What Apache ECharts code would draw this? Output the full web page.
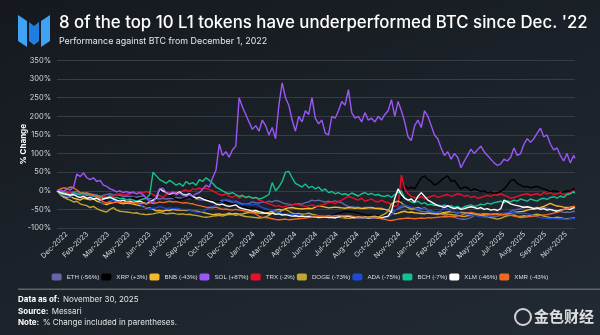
<!DOCTYPE html>
<html><head><meta charset="utf-8">
<script src="https://cdn.jsdelivr.net/npm/echarts@6/dist/echarts.min.js"></script>
<style>
html,body{margin:0;padding:0;width:600px;height:335px;overflow:hidden;background:linear-gradient(160deg,#15191f 0%,#1b2128 45%,#222a33 100%);}
#c{width:600px;height:335px;}
</style>
</head><body><div id="c"></div>
<script>
// ---- categories (weekly samples from Dec 1, 2022, plus final day Nov 30, 2025) ----
const startDate = '2022-12-01';
const endDate = '2025-11-30';
const weeksCount = 157;

// ---- x tick labels ----
const tickLabels = ['Dec-2022','Feb-2023','Mar-2023','May-2023','Jun-2023','Jul-2023','Sep-2023','Oct-2023','Dec-2023','Jan-2024','Mar-2024','Apr-2024','Jun-2024','Jul-2024','Aug-2024','Oct-2024','Nov-2024','Jan-2025','Feb-2025','Apr-2025','May-2025','Jul-2025','Aug-2025','Sep-2025','Nov-2025'];
const firstTickDate = '2022-12-21';
const tickStepDays = 44;

// ---- y tick values ----
const yTicks = [-100,-50,0,50,100,150,200,250,300,350];

// ---- series names / colours ----
const names = ['ETH (-56%)','XRP (+3%)','BNB (-43%)','SOL (+87%)','TRX (-2%)','DOGE (-73%)','ADA (-75%)','BCH (-7%)','XLM (-46%)','XMR (-43%)'];
const colors = ['#6466aa','#000000','#f3ba2f','#9b57f7','#e8102a','#c2a633','#1d49d6','#14c28f','#ffffff','#f26822'];

// ---- series values (% change vs BTC), weekly ----
const ETH = [
0,-2,-3,-5,-5,-3,-2,-5,-8,-6,
-8,-10,-12,-15,-12,-10,-8,-12,-10,-12,
-15,-14,-15,-16,-18,-15,-14,-20,-22,-18,
-20,-22,-20,-22,-21,-20,-18,-19,-20,-21,
-20,-21,-22,-24,-25,-26,-28,-32,-30,-28,
-25,-26,-28,-30,-28,-32,-35,-36,-34,-30,
-32,-33,-30,-32,-28,-30,-26,-28,-32,-35,
-36,-38,-36,-35,-36,-32,-30,-25,-27,-25,
-28,-30,-28,-30,-27,-30,-32,-38,-42,-43,
-45,-44,-47,-45,-44,-46,-48,-46,-47,-50,
-52,-55,-52,-48,-45,-42,-44,-48,-50,-52,
-55,-57,-55,-60,-62,-60,-62,-65,-68,-70,
-71,-74,-76,-77,-75,-72,-66,-64,-65,-66,
-67,-68,-70,-68,-66,-64,-60,-55,-52,-50,
-48,-42,-44,-45,-46,-44,-48,-45,-47,-50,
-52,-53,-55,-58,-57,-58,-55,
-56];
const XRP = [
0,-5,-8,-10,-10,-15,-12,-18,-20,-22,
-24,-20,-22,-25,-28,-22,-15,-17,-20,-25,
-22,-25,-20,-18,-22,-20,-18,-20,-16,-20,
-18,-5,12,-5,-12,-18,-22,-25,-22,-20,
-18,-22,-20,-18,-20,-22,-25,-28,-30,-28,
-32,-30,-35,-37,-35,-40,-42,-45,-48,-46,
-48,-50,-52,-55,-58,-60,-62,-63,-60,-62,
-65,-64,-66,-65,-67,-66,-68,-67,-68,-69,
-68,-70,-68,-66,-64,-60,-58,-56,-55,-57,
-58,-60,-62,-64,-66,-65,-67,-66,-68,-67,
-68,-66,-55,-40,-20,15,5,10,5,20,
35,40,30,25,15,20,28,35,40,25,
28,15,5,10,8,0,5,2,-2,0,
-5,-3,-8,-5,-2,5,15,28,30,20,
15,10,12,8,10,12,8,5,2,-3,
0,-2,-5,-3,0,-2,5,
3];
const BNB = [
0,-5,-15,-18,-15,-20,-22,-25,-20,-22,
-24,-22,-28,-30,-35,-37,-34,-32,-30,-33,
-35,-33,-34,-36,-38,-40,-42,-47,-46,-50,
-54,-53,-55,-52,-53,-50,-52,-51,-52,-53,
-52,-54,-55,-56,-58,-60,-62,-64,-63,-62,
-64,-63,-60,-62,-61,-63,-62,-60,-58,-59,
-58,-60,-61,-60,-58,-55,-52,-50,-52,-48,
-46,-45,-47,-48,-49,-48,-47,-48,-44,-40,
-42,-44,-46,-45,-44,-45,-46,-47,-45,-46,
-47,-46,-48,-47,-46,-45,-47,-48,-49,-50,
-52,-58,-62,-60,-57,-55,-58,-57,-59,-60,
-61,-62,-60,-61,-62,-63,-60,-58,-57,-56,
-58,-59,-58,-59,-60,-61,-62,-63,-64,-63,
-62,-64,-63,-62,-63,-62,-61,-60,-58,-57,
-56,-55,-52,-50,-50,-48,-45,-42,-38,-34,
-38,-41,-42,-44,-45,-44,-42,
-43];
const SOL = [
0,3,-2,5,2,10,45,38,48,35,
30,35,25,28,15,12,5,2,-3,0,
-5,-2,-6,-3,-8,-5,-10,-20,-28,-33,
-15,5,8,-5,-8,-3,-10,-6,-12,-15,
-10,-14,-8,-5,5,15,10,35,55,125,
95,105,90,110,120,250,225,205,185,165,
175,160,190,175,150,170,140,230,290,250,
230,190,160,200,185,215,205,250,195,180,
190,155,150,200,195,215,240,230,272,210,
195,200,185,210,190,195,185,200,190,205,
215,245,200,240,215,185,145,135,175,190,
170,215,200,175,150,140,115,95,105,85,
100,90,62,80,95,112,100,110,120,105,
95,85,75,68,72,85,80,90,115,95,
100,125,140,130,140,155,168,145,150,125,
110,115,95,80,100,75,95,
87];
const TRX = [
0,-3,-5,-2,-5,-8,-12,-10,-15,-12,
-10,-15,-18,-20,-15,-18,-12,-15,-10,-8,
-12,-10,-8,-5,-8,-3,-5,-2,-5,-10,
-15,-12,-18,-10,-5,-8,-3,-5,0,2,
-2,5,3,8,5,7,3,0,-5,-10,
-12,-8,-15,-18,-12,-20,-15,-18,-15,-20,
-18,-25,-28,-32,-35,-38,-42,-40,-44,-42,
-40,-38,-35,-38,-40,-42,-40,-38,-42,-40,
-38,-35,-32,-30,-35,-28,-25,-20,-15,-18,
-22,-25,-20,-28,-25,-22,-28,-30,-25,-30,
-32,-38,-42,-40,42,5,-8,-15,-18,-20,
-15,-22,-18,-15,-12,-18,-15,-12,-10,-15,
-12,-8,-10,-15,-12,-18,-15,-20,-18,-15,
-12,-15,-10,-12,-8,-12,-15,-20,-18,-15,
-12,-10,-8,-12,-10,-8,-12,-5,-8,-5,
-10,-8,-5,-10,-8,-5,0,
-2];
const DOGE = [
0,-10,-18,-22,-25,-30,-28,-35,-38,-40,
-45,-42,-48,-52,-55,-57,-50,-45,-52,-55,
-56,-57,-58,-60,-59,-62,-63,-64,-63,-62,
-60,-58,-60,-62,-61,-60,-62,-63,-62,-64,
-63,-65,-66,-68,-70,-71,-70,-68,-67,-66,
-68,-65,-64,-63,-66,-64,-67,-69,-70,-71,
-72,-73,-72,-70,-66,-60,-55,-58,-52,-50,
-55,-60,-62,-61,-63,-62,-60,-63,-65,-67,
-68,-70,-71,-70,-69,-71,-72,-73,-74,-73,
-72,-73,-72,-71,-70,-69,-68,-70,-67,-62,
-55,-35,-30,-28,-32,-40,-45,-50,-47,-45,
-48,-46,-52,-55,-58,-60,-62,-61,-63,-64,
-65,-66,-68,-69,-67,-66,-64,-65,-66,-68,
-70,-72,-74,-76,-74,-70,-67,-66,-65,-68,
-69,-67,-68,-66,-64,-63,-65,-68,-70,-72,
-73,-71,-72,-74,-75,-74,-73,
-73];
const ADA = [
0,-5,-12,-15,-18,-12,-8,-10,-12,-10,
-14,-15,-20,-28,-36,-32,-28,-25,-26,-28,
-27,-29,-30,-28,-32,-35,-44,-46,-48,-47,
-46,-42,-45,-48,-46,-48,-47,-49,-50,-51,
-52,-55,-57,-58,-56,-50,-45,-42,-40,-35,
-28,-23,-25,-28,-30,-35,-38,-36,-37,-38,
-36,-40,-45,-48,-50,-52,-55,-58,-61,-62,
-63,-64,-65,-64,-66,-67,-66,-67,-68,-66,
-68,-69,-68,-69,-70,-69,-70,-71,-70,-72,
-71,-72,-73,-72,-74,-73,-72,-73,-72,-73,
-70,-65,-55,-45,-40,-38,-42,-44,-46,-48,
-50,-47,-52,-55,-58,-57,-55,-40,-50,-55,
-57,-58,-60,-61,-63,-65,-66,-68,-70,-71,
-70,-68,-66,-64,-62,-60,-59,-58,-59,-60,
-61,-60,-62,-64,-67,-70,-72,-73,-74,-75,
-74,-76,-75,-76,-77,-75,-74,
-75];
const BCH = [
0,-3,-5,-8,-10,-5,-8,-10,-5,-12,
-10,-15,-12,-15,-20,-18,-15,-20,-18,-22,
-20,-25,-22,-25,-28,-25,-22,-20,-10,50,
40,30,25,20,28,22,15,20,12,25,
18,22,15,30,25,35,28,20,10,5,
0,-5,-8,-5,-10,-15,-12,-18,-15,-20,
-18,-22,-20,-15,-10,22,0,10,25,50,
52,35,20,15,10,18,8,12,5,10,
0,5,-5,-2,-8,-5,-10,-8,-12,-6,
-10,-14,-8,-5,-10,-7,-12,-10,-14,-15,
-12,-18,-10,-5,0,-20,-25,-30,-32,-28,
-35,-32,-38,-36,-40,-38,-42,-38,-42,-40,
-45,-42,-48,-43,-40,-38,-42,-40,-36,-38,
-33,-36,-32,-30,-28,-32,-27,-30,-25,-28,
-22,-25,-28,-22,-25,-28,-22,-20,-23,-18,
-16,-20,-14,-18,-10,-8,-3,
-7];
const XLM = [
0,-5,-8,-10,-12,-10,-15,-18,-15,-20,
-18,-22,-20,-25,-22,-20,-18,-22,-25,-28,
-25,-30,-28,-32,-30,-28,-32,-35,-30,-25,
-20,5,0,-5,-10,-5,-8,-3,-10,-12,
-8,-15,-20,-18,-22,-25,-28,-30,-35,-38,
-36,-40,-42,-40,-38,-45,-48,-50,-52,-55,
-53,-56,-58,-60,-62,-60,-63,-62,-65,-64,
-66,-68,-67,-69,-68,-70,-69,-71,-70,-72,
-71,-70,-72,-71,-73,-70,-68,-70,-68,-71,
-72,-70,-72,-71,-73,-72,-71,-73,-72,-70,
-68,-55,-20,5,-10,-20,-25,-22,-30,-15,
-5,-15,-25,-30,-35,-40,-42,-45,-40,-45,
-48,-45,-50,-48,-45,-43,-45,-48,-45,-50,
-48,-52,-50,-53,-48,-25,-30,-35,-38,-40,
-42,-45,-43,-45,-48,-46,-50,-48,-52,-50,
-53,-55,-52,-50,-48,-50,-45,
-46];
const XMR = [
0,5,8,6,10,8,2,-5,-8,-6,
-10,-12,-15,-20,-30,-33,-30,-32,-30,-31,
-32,-30,-31,-33,-32,-34,-33,-35,-32,-34,
-33,-30,-32,-30,-28,-30,-29,-31,-33,-32,
-34,-35,-38,-40,-42,-44,-45,-46,-44,-47,
-50,-49,-51,-52,-50,-52,-53,-55,-56,-58,
-62,-68,-72,-71,-73,-75,-77,-78,-77,-76,
-78,-77,-76,-75,-74,-73,-72,-71,-70,-68,
-69,-68,-67,-68,-67,-66,-68,-67,-66,-68,
-70,-71,-70,-72,-71,-72,-71,-73,-75,-77,
-79,-80,-78,-76,-75,-74,-73,-74,-75,-74,
-73,-74,-72,-73,-72,-71,-70,-69,-70,-68,
-69,-67,-66,-62,-59,-58,-60,-62,-63,-61,
-62,-63,-62,-64,-63,-64,-65,-66,-68,-70,
-72,-71,-70,-69,-68,-67,-66,-65,-64,-62,
-60,-58,-55,-50,-48,-45,-42,
-43];

const seriesValues = [ETH, XRP, BNB, SOL, TRX, DOGE, ADA, BCH, XLM, XMR];

// ---- build helpers: x = days since start date ----
const DAY = 864e5;
const t0 = Date.parse(startDate + 'T00:00:00Z');
const tEnd = Date.parse(endDate + 'T00:00:00Z');
const lastDay = Math.round((tEnd - t0) / DAY);
const dayIdx = [];
for (let i = 0; i < weeksCount; i++) dayIdx.push(i * 7);
dayIdx.push(lastDay);

const firstTickDay = Math.round((Date.parse(firstTickDate + 'T00:00:00Z') - t0) / DAY);
const tickPositions = tickLabels.map((_, k) => firstTickDay + k * tickStepDays);
function labelFor(v) {
  const k = tickPositions.indexOf(Math.round(v));
  return k >= 0 ? tickLabels[k] : '';
}

const chart = echarts.init(document.getElementById('c'), null, {renderer: 'canvas'});

const series = names.map((n, i) => ({
  name: n,
  type: 'line',
  showSymbol: false,
  symbol: 'none',
  data: dayIdx.map((d, j) => [d, seriesValues[i][j]]),
  lineStyle: {width: 1.4, color: colors[i]},
  itemStyle: {color: colors[i]},
  z: i === 3 ? 5 : 2,
  animation: false
}));

const font = 'Inter, "Liberation Sans", Arial, sans-serif';
const font2 = '"Liberation Sans", Arial, sans-serif';

chart.setOption({
  backgroundColor: 'transparent',
  animation: false,
  textStyle: {fontFamily: font},
  grid: {left: 57, right: 25, top: 60.5, bottom: 107},
  legend: {
    data: names,
    top: 273.5,
    left: 'center',
    padding: 0,
    icon: 'roundRect',
    itemWidth: 10,
    itemHeight: 7,
    itemGap: 2,
    textStyle: {color: '#d9dce0', fontSize: 6.2, fontFamily: font2},
    inactiveColor: '#555'
  },
  xAxis: {
    type: 'value',
    min: 0,
    max: lastDay,
    axisLine: {show: false},
    axisTick: {show: false},
    splitLine: {show: false},
    axisLabel: {
      customValues: tickPositions,
      formatter: (v) => labelFor(v),
      rotate: 45,
      fontSize: 7.2,
      color: '#d3d6da',
      margin: 5,
      hideOverlap: false
    }
  },
  yAxis: {
    type: 'value',
    min: yTicks[0],
    max: yTicks[yTicks.length - 1],
    interval: 50,
    axisLine: {show: false},
    axisTick: {show: false},
    axisLabel: {formatter: '{value}%', fontSize: 7.5, color: '#d3d6da', margin: 6},
    splitLine: {lineStyle: {color: '#363d46', width: 1}},
    name: '% Change',
    nameLocation: 'middle',
    nameGap: 29,
    nameMoveOverlap: false,
    nameRotate: 90,
    nameTextStyle: {color: '#ffffff', fontWeight: 'bold', fontSize: 8}
  },
  series: series,
  graphic: [
    {type: 'polygon', shape: {points: [[18,15],[27,21],[27,47],[18,41]]}, style: {fill: '#3fa3f5'}},
    {type: 'polygon', shape: {points: [[29,22],[34,26],[39,22],[39,41],[34,45],[29,41]]}, style: {fill: '#1f7fe0'}},
    {type: 'polygon', shape: {points: [[50,15],[41,21],[41,47],[50,41]]}, style: {fill: '#3fa3f5'}},
    {type: 'text', left: 59, top: 14.5, style: {text: "8 of the top 10 L1 tokens have underperformed BTC since Dec. '22", fill: '#ffffff', fontSize: 16.8, fontWeight: 500, fontFamily: font}},
    {type: 'text', left: 59, top: 36.5, style: {text: 'Performance against BTC from December 1, 2022', fill: '#e6e8eb', fontSize: 8.9, fontFamily: font}},
    {type: 'rect', shape: {x: 18, y: 288.5, width: 582, height: 1.5}, style: {fill: '#5d646c'}},
    {type: 'text', left: 18, top: 294, style: {rich: {b: {fontWeight: 'bold', fill: '#ffffff', fontSize: 8, fontFamily: font}, n: {fill: '#e3e5e8', fontSize: 8, fontFamily: font}}, text: '{b|Data as of:} {n|November 30, 2025}'}},
    {type: 'text', left: 18, top: 305.5, style: {rich: {b: {fontWeight: 'bold', fill: '#ffffff', fontSize: 8, fontFamily: font}, n: {fill: '#e3e5e8', fontSize: 8, fontFamily: font}}, text: '{b|Source:} {n|Messari}'}},
    {type: 'text', left: 18, top: 317, style: {rich: {b: {fontWeight: 'bold', fill: '#ffffff', fontSize: 8, fontFamily: font}, n: {fill: '#e3e5e8', fontSize: 8, fontFamily: font}}, text: '{b|Note:} {n|% Change included in parentheses.}'}},
    {type: 'circle', shape: {cx: 523, cy: 317, r: 8}, style: {fill: 'none', stroke: 'rgba(255,255,255,0.8)', lineWidth: 2}},
    {type: 'text', left: 534, top: 309, style: {text: '金色财经', fill: 'rgba(255,255,255,0.85)', fontSize: 15, fontWeight: 'bold', fontFamily: '"Noto Sans CJK SC", sans-serif'}}
  ]
});
</script></body></html>
